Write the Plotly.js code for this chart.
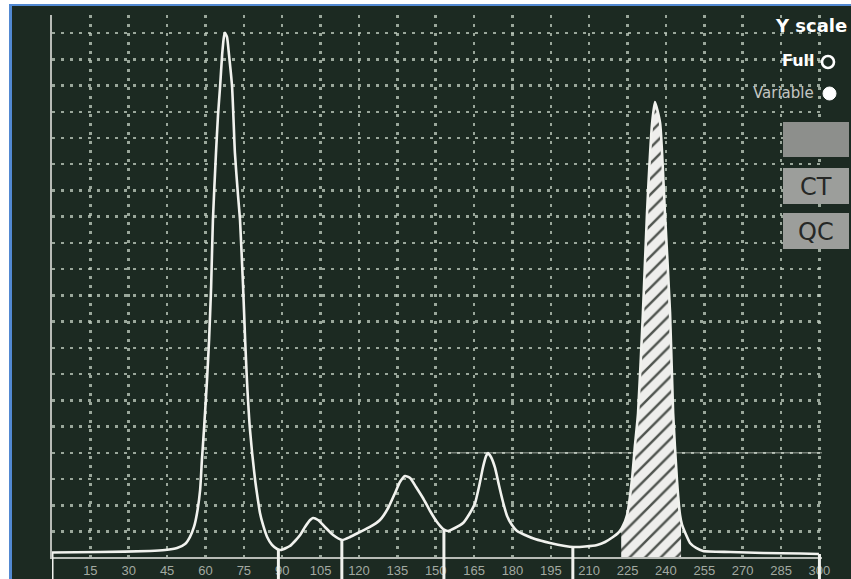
<!DOCTYPE html>
<html><head><meta charset="utf-8">
<script src="https://cdn.plot.ly/plotly-3.0.1.min.js"></script>
<style>
html,body{margin:0;padding:0;background:#ffffff;width:851px;height:579px;overflow:hidden}
#frame{position:absolute;left:9px;top:4px;width:842px;height:575px;border-left:3px solid #5289d2;border-top:2px solid #5289d2;background:#1c2a22;box-sizing:border-box}
#chart{position:absolute;left:12px;top:6px;width:839px;height:573px}
</style></head><body>
<div id="frame"></div><div id="chart"></div>
<script>
// ---- data (channel vs. counts) ----
const channel = [0,18.8,38.3,44.2,48.9,52.0,53.9,55.5,56.7,57.9,58.6,59.4,60.6,61.4,62.2,62.9,64.1,64.9,65.7,66.5,67.2,67.6,68.4,69.2,70.4,71.5,72.7,73.5,74.7,75.5,76.2,77.4,79.4,80.5,81.3,82.5,84.1,86.0,88.0,89.5,91.5,93.0,95.0,97.0,98.9,100.9,102.0,104.0,106.7,109.9,113.4,116.5,120.4,124.3,128.2,131.4,134.1,136.0,138.0,140.0,142.3,145.0,147.8,150.5,152.9,154.8,157.5,160.7,163.4,165.4,166.9,168.5,169.7,170.4,171.6,173.2,174.7,176.3,177.9,179.8,181.8,184.9,188.8,194.7,200.5,203.7,208.4,213.1,216.2,219.3,221.3,222.8,224.8,226.7,227.9,229.1,231.0,232.6,234.6,235.7,237.7,239.6,241.6,242.8,244.3,245.5,246.3,247.9,249.4,251.8,254.5,265.1,278.0,292.4,299.8];
const counts = [0.86,0.95,1.14,1.33,1.72,2.48,3.81,5.72,8.39,12.77,18.49,24.21,33.74,41.37,51.47,64.24,77.01,84.25,89.59,95.69,99.12,99.89,99.12,95.69,89.59,77.01,69.0,64.24,51.47,41.37,33.74,24.21,14.68,10.87,8.39,6.10,3.81,2.29,1.52,1.33,1.72,2.10,3.05,4.19,5.72,7.05,7.43,7.05,5.72,4.19,3.24,3.81,4.77,5.72,7.05,9.34,12.20,14.30,15.44,15.06,13.34,11.25,8.77,6.67,5.34,4.96,5.53,6.48,8.39,10.29,13.34,17.16,19.25,19.82,19.06,16.97,13.72,10.48,7.82,6.10,4.96,4.19,3.43,2.67,2.10,1.91,2.00,2.29,2.86,3.81,4.57,5.53,8.01,14.68,21.35,27.45,46.51,65.57,82.73,86.73,82.73,65.57,46.51,27.45,14.68,8.01,6.10,4.19,2.67,1.72,1.14,0.95,0.76,0.67,0.57];
const gateStart = 222.5;
const gateEnd = 245.9;
const markerPositions = [0, 88.5, 113.3, 153.2, 203.6, 300];
const thresholdLevel = 19.86;
const thresholdStart = 155;
const thresholdEnd = 301;
const tickValues = [15,30,45,60,75,90,105,120,135,150,165,180,195,210,225,240,255,270,285,300];
const tickLabels = ['15','30','45','60','75','90','105','120','135','150','165','180','195','210','225','240','255','270','285','300'];
const scaleLabels = ['Y scale','Full','Variable'];
const buttonLabels = ['', 'CT', 'QC'];

// ---- helpers ----
function valueAt(x){
  for(let i=0;i<channel.length-1;i++){
    if(x>=channel[i] && x<=channel[i+1]){
      const t=(x-channel[i])/(channel[i+1]-channel[i]);
      return counts[i]+t*(counts[i+1]-counts[i]);
    }
  }
  return x<channel[0]?counts[0]:counts[counts.length-1];
}
const gateX=[gateStart], gateY=[valueAt(gateStart)];
channel.forEach((c,i)=>{ if(c>gateStart && c<gateEnd){gateX.push(c);gateY.push(counts[i]);} });
gateX.push(gateEnd); gateY.push(valueAt(gateEnd));

const W=839,H=573,L=40,R=29,T=9,B=22;
const plotW=W-L-R, plotH=H-T-B;
// convert picture pixel positions (layout decoration only) to paper coords
function px(xp){return (xp-12-L)/plotW;}
function py(yp){return (H-B-(yp-6))/plotH;}

const white='#f1f2ee';
const gridCol='rgba(190,202,190,0.78)';
const shapes=[];
shapes.push({type:'line',xref:'x',yref:'y',x0:thresholdStart,x1:thresholdEnd,y0:thresholdLevel,y1:thresholdLevel,
  line:{color:'rgba(225,228,220,0.45)',width:1.5},layer:'between'});
markerPositions.forEach(m=>{
  shapes.push({type:'line',xref:'x',yref:'y',x0:m,x1:m,y0:0,y1:valueAt(m),line:{color:white,width:3},layer:'above'});
  shapes.push({type:'line',xref:'x',yref:'paper',x0:m,x1:m,y0:0,y1:-0.06,line:{color:white,width:3},layer:'above'});
});
// Y scale radio circles
shapes.push({type:'circle',xref:'paper',yref:'paper',x0:px(822),x1:px(834),y0:py(68),y1:py(56),line:{color:'#ffffff',width:2.6},fillcolor:'rgba(0,0,0,0)',layer:'above'});
shapes.push({type:'circle',xref:'paper',yref:'paper',x0:px(823),x1:px(836),y0:py(100),y1:py(87),line:{color:'#ffffff',width:1},fillcolor:'#ffffff',layer:'above'});
// buttons
const btnTops=[122,168,213], btnBottoms=[157,204,249], btnFill=['#8d8f8c','#9c9e9b','#9c9e9b'];
buttonLabels.forEach((b,i)=>{
  shapes.push({type:'rect',xref:'paper',yref:'paper',x0:px(783),x1:px(849),y0:py(btnBottoms[i]),y1:py(btnTops[i]),
    line:{width:0},fillcolor:btnFill[i],layer:'above'});
});

const annotations=[
  {text:'<b>'+scaleLabels[0]+'</b>',xref:'paper',yref:'paper',x:px(849),y:py(26),xanchor:'right',yanchor:'middle',showarrow:false,
   font:{family:'DejaVu Sans, sans-serif',size:18,color:'#ffffff'}},
  {text:'<b>'+scaleLabels[1]+'</b>',xref:'paper',yref:'paper',x:px(817),y:py(61),xanchor:'right',yanchor:'middle',showarrow:false,
   font:{family:'DejaVu Sans, sans-serif',size:16,color:'#ffffff'}},
  {text:scaleLabels[2],xref:'paper',yref:'paper',x:px(816),y:py(93),xanchor:'right',yanchor:'middle',showarrow:false,
   font:{family:'DejaVu Sans, sans-serif',size:15,color:'#c4c6c2'}},
];
buttonLabels.forEach((b,i)=>{
  if(!b) return;
  annotations.push({text:b,xref:'paper',yref:'paper',x:px(816),y:py((btnTops[i]+btnBottoms[i])/2+1),xanchor:'center',yanchor:'middle',showarrow:false,
    font:{family:'DejaVu Sans, sans-serif',size:24,color:'#262826'}});
});

const traces=[
  {x:gateX,y:gateY,type:'scatter',mode:'lines',fill:'tozeroy',line:{width:0,shape:'spline',smoothing:0.5},
   fillcolor:'#eeeeec',fillpattern:{shape:'/',bgcolor:'#eeeeec',fgcolor:'#4f544f',size:11,solidity:0.22,fillmode:'replace'},hoverinfo:'skip'},
  {x:channel,y:counts,type:'scatter',mode:'lines',line:{color:white,width:2.6,shape:'spline',smoothing:0.5},hoverinfo:'skip'}
];

const layout={
  width:W,height:H,margin:{l:L,r:R,t:T,b:B,pad:0},
  paper_bgcolor:'#1c2a22',plot_bgcolor:'#1c2a22',showlegend:false,
  xaxis:{range:[0,301],tickmode:'array',tickvals:tickValues,ticktext:tickLabels,showgrid:true,gridcolor:gridCol,gridwidth:2.5,griddash:'3px,6px',
    showline:true,linecolor:'#b8bcb7',linewidth:2,ticks:'',zeroline:false,
    tickfont:{family:'Liberation Sans, Arial, sans-serif',size:13,color:'#a2a9a1'},ticklabelstandoff:0},
  yaxis:{range:[0,103.3],tickmode:'linear',tick0:4.86,dtick:5,showticklabels:false,ticks:'',showgrid:true,gridcolor:gridCol,gridwidth:2.5,griddash:'3px,6px',
    showline:true,linecolor:'#b8bcb7',linewidth:2,zeroline:false},
  shapes:shapes,annotations:annotations
};
Plotly.newPlot('chart',traces,layout,{staticPlot:true,displayModeBar:false});
</script></body></html>
